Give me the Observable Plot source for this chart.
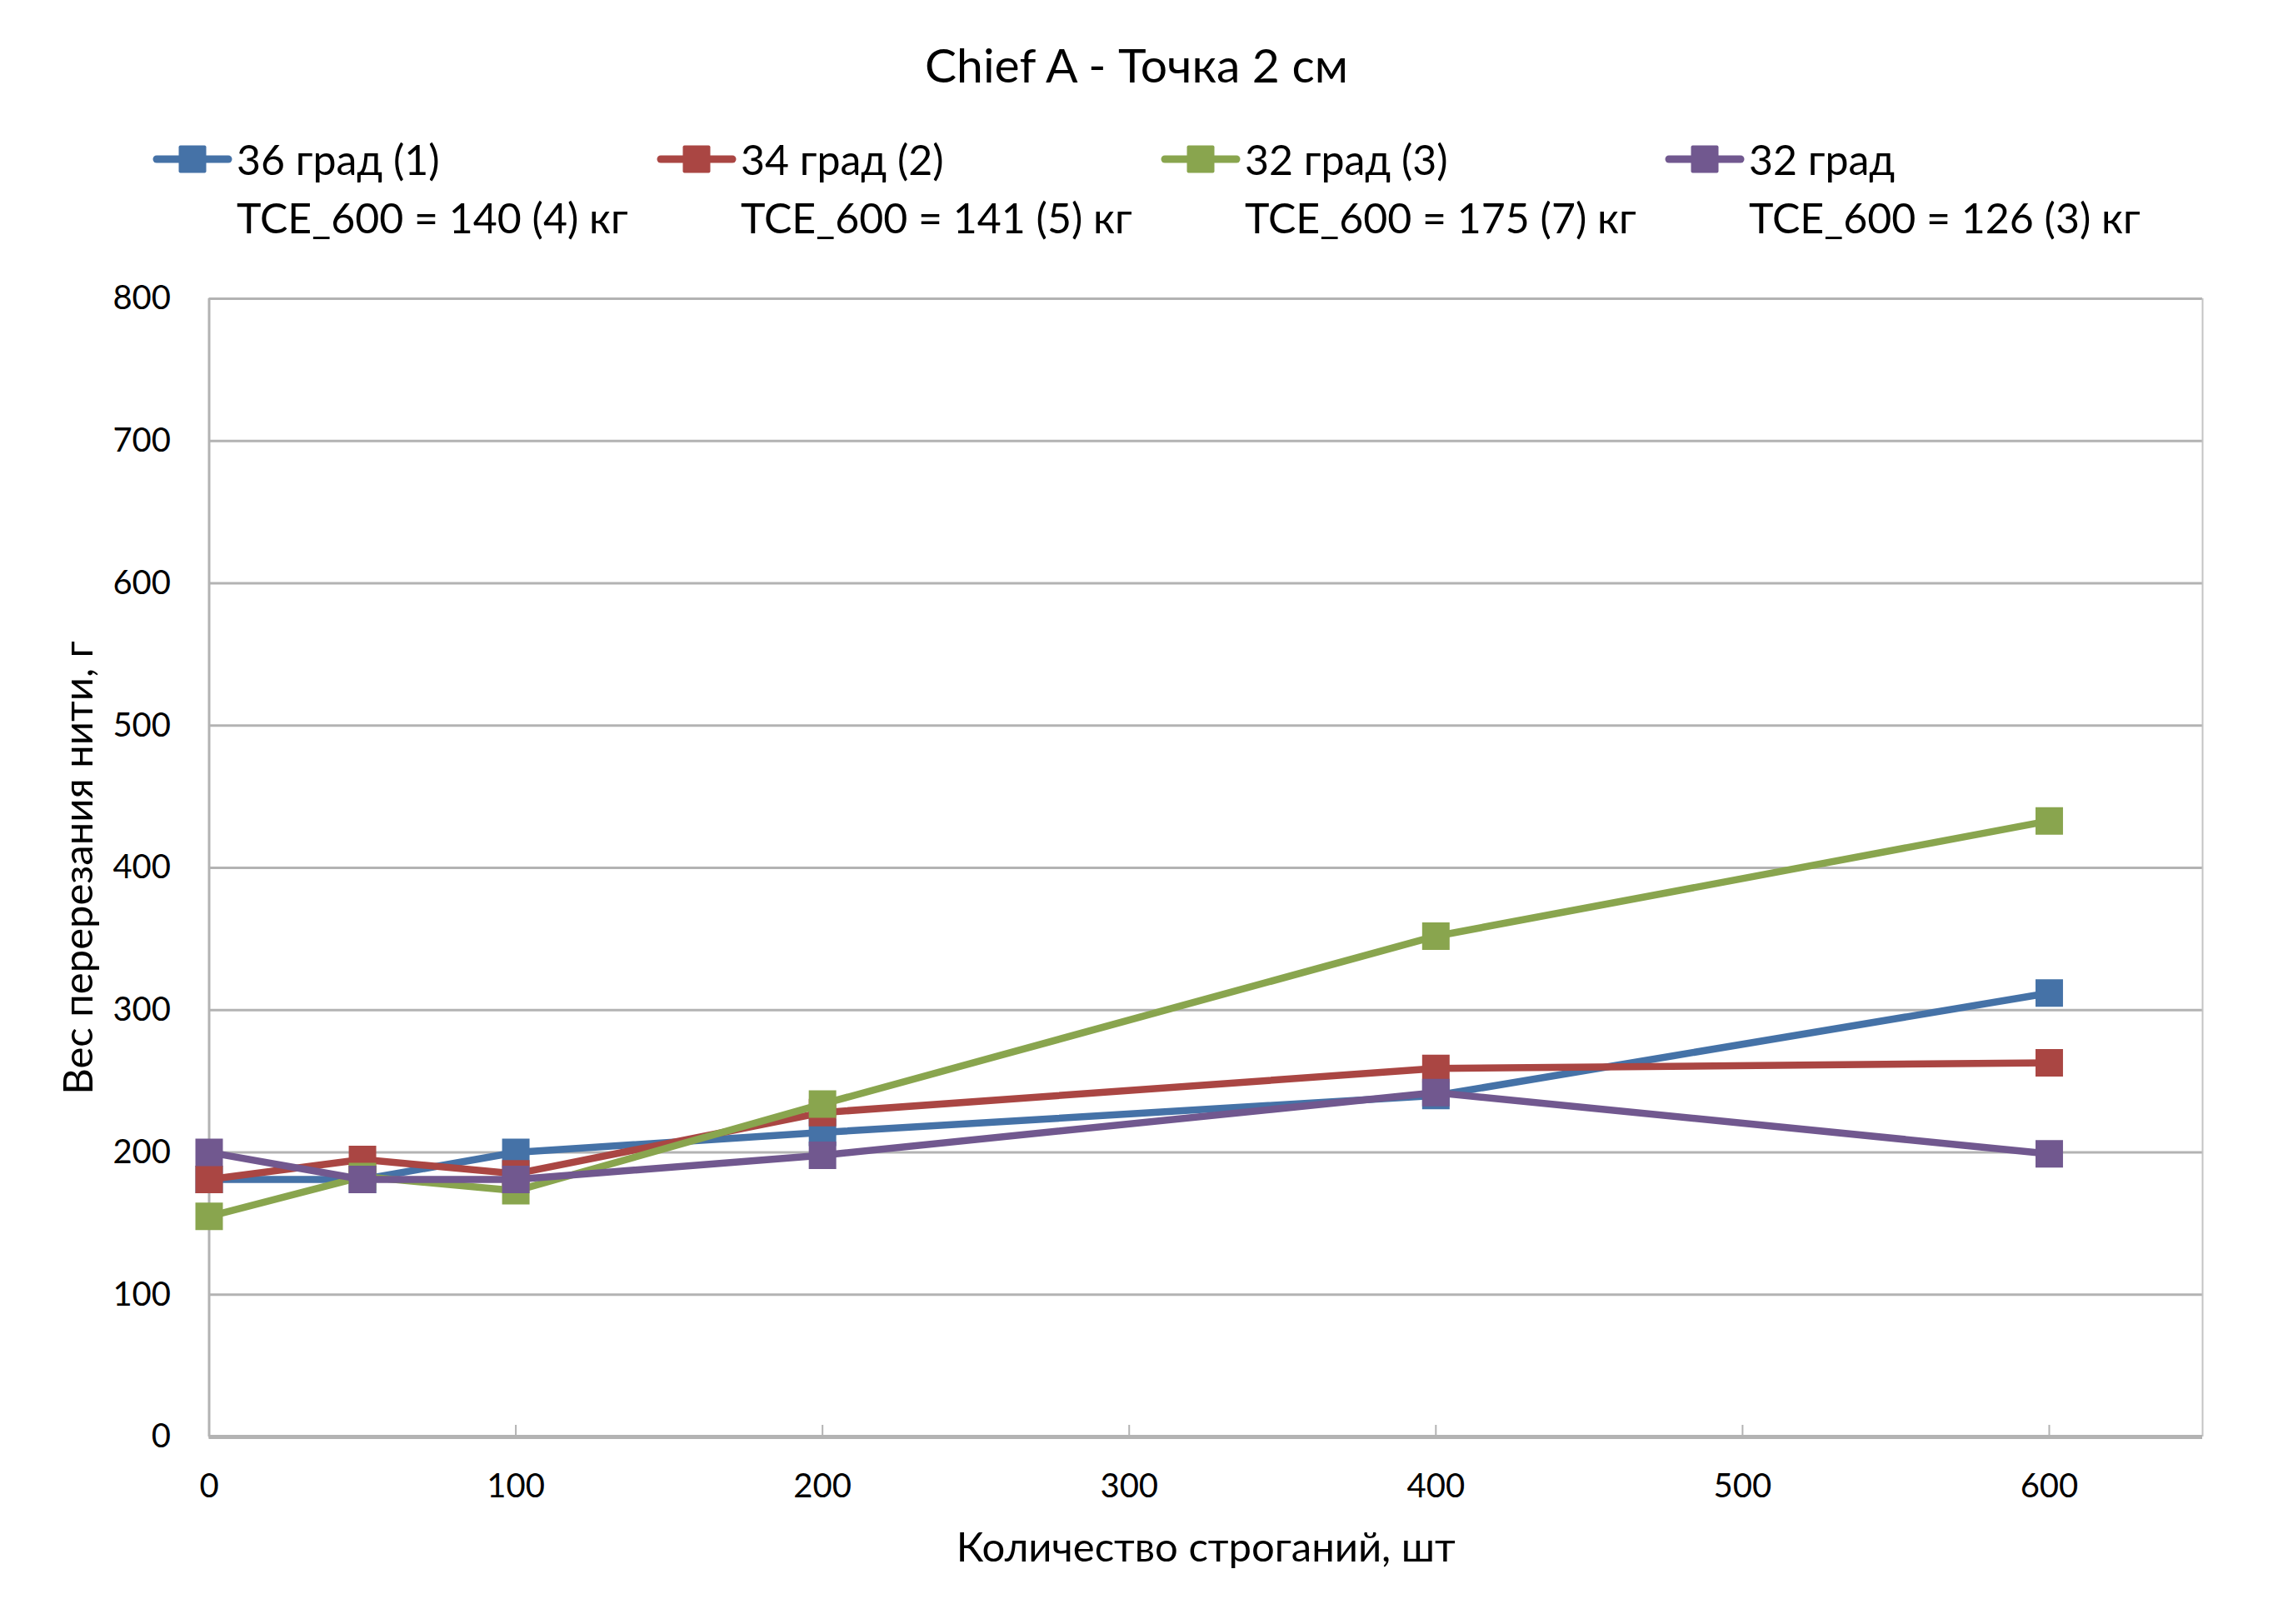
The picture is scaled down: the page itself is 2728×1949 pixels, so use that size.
<!DOCTYPE html>
<html><head><meta charset="utf-8">
<script src="https://cdn.jsdelivr.net/npm/d3@7"></script>
<script src="https://cdn.jsdelivr.net/npm/@observablehq/plot@0.6"></script>
<style>
body{margin:0;background:#fff;font-family:Lato,"Open Sans",sans-serif;color:#000}
#wrap{position:relative;width:2728px;height:1949px;overflow:hidden;background:#fff}
#title{position:absolute;left:0;width:2728px;top:42px;text-align:center;font-size:57px;line-height:70px}
.leg{position:absolute;font-size:50px;line-height:60px;white-space:nowrap}
.leg svg{position:absolute;left:0;top:0}
#chart{position:absolute;left:0;top:330px}
</style></head><body>
<div id="wrap">
<div id="title"></div>
<div id="legend"></div>
<div id="chart"></div>
</div>
<script>
const titleText = "Chief A - Точка 2 см";
const xValues = [0, 50, 100, 200, 400, 600];
const seriesNames = ["36 град (1)", "34 град (2)", "32 град (3)", "32 град"];
const seriesNotes = ["TCE_600 = 140 (4) кг", "TCE_600 = 141 (5) кг", "TCE_600 = 175 (7) кг", "TCE_600 = 126 (3) кг"];
const s1 = [181, 181, 200, 214, 240, 312];
const s2 = [181, 195, 185, 228, 259, 263];
const s3 = [155, 183, 173, 234, 352, 433];
const s4 = [200, 181, 181, 198, 242, 199];
const seriesValues = [s1, s2, s3, s4];
const colors = ["#4572A7", "#AA4643", "#89A54E", "#71588F"];
const xTicks = [0, 100, 200, 300, 400, 500, 600];
const yTicks = [0, 100, 200, 300, 400, 500, 600, 700, 800];
const xLabel = "Количество строганий, шт";
const yLabel = "Вес перерезания нити, г";

document.getElementById("title").textContent = titleText;

// legend
const legend = document.getElementById("legend");
seriesNames.forEach((name, i) => {
  const left = 183 + 605 * i;
  const e = document.createElement("div");
  e.className = "leg";
  e.style.left = left + "px";
  e.style.top = "161px";
  e.style.paddingLeft = "101px";
  e.innerHTML = `<svg width="96" height="60"><line x1="5" x2="91" y1="30" y2="30" stroke="${colors[i]}" stroke-width="9" stroke-linecap="round"/><rect x="31.5" y="13.5" width="33" height="33" rx="2" fill="${colors[i]}"/></svg>`;
  const t = document.createElement("span");
  t.textContent = name;
  e.appendChild(t);
  legend.appendChild(e);
  const n = document.createElement("div");
  n.className = "leg";
  n.style.left = (left + 101) + "px";
  n.style.top = "231px";
  n.textContent = seriesNotes[i];
  legend.appendChild(n);
});

const rows = [];
seriesValues.forEach((vals, si) => vals.forEach((v, j) => rows.push({series: seriesNames[si], si, x: xValues[j], y: v})));

const W = 2728, H = 1619, mT = 28, mB = 225, mL = 250.5, mR = 85;
const plotH = H - mT - mB;
const gray = "#b3b3b3";

const marks = [
  Plot.gridY(yTicks, {stroke: gray, strokeOpacity: 1, strokeWidth: 3}),
  Plot.ruleX([650], {stroke: "#c4c4c4", strokeWidth: 2}),
  Plot.ruleX([0], {stroke: gray, strokeWidth: 3}),
  Plot.tickX(xTicks.filter(d => d > 0), {x: d => d, stroke: gray, strokeWidth: 2, insetTop: plotH - 14}),
  Plot.ruleY([0], {stroke: gray, strokeWidth: 5}),
  Plot.axisY(yTicks, {tickSize: 0, tickPadding: 46, fontSize: 40, label: null}),
  Plot.axisY([], {label: yLabel, labelArrow: "none", labelAnchor: "center", labelOffset: 175, fontSize: 49, tickSize: 0}),
  Plot.axisX(xTicks, {tickSize: 0, tickPadding: 44, fontSize: 40, label: null}),
  Plot.axisX([], {label: xLabel, labelArrow: "none", labelAnchor: "center", labelOffset: 149, fontSize: 49, tickSize: 0})
];
seriesNames.forEach((name, si) => {
  const d = rows.filter(r => r.si === si);
  marks.push(Plot.line(d, {x: "x", y: "y", stroke: colors[si], strokeWidth: 8.5}));
  marks.push(Plot.dot(d, {x: "x", y: "y", symbol: "square", r: 18.6, fill: colors[si], stroke: "none"}));
});

const chart = Plot.plot({
  width: W, height: H,
  marginTop: mT, marginBottom: mB, marginLeft: mL, marginRight: mR,
  style: {fontFamily: "Lato, 'Open Sans', sans-serif", color: "#000", background: "#fff", overflow: "visible"},
  x: {domain: [0, 650], ticks: xTicks},
  y: {domain: [0, 800], ticks: yTicks},
  marks
});
document.getElementById("chart").appendChild(chart);
</script>
</body></html>
